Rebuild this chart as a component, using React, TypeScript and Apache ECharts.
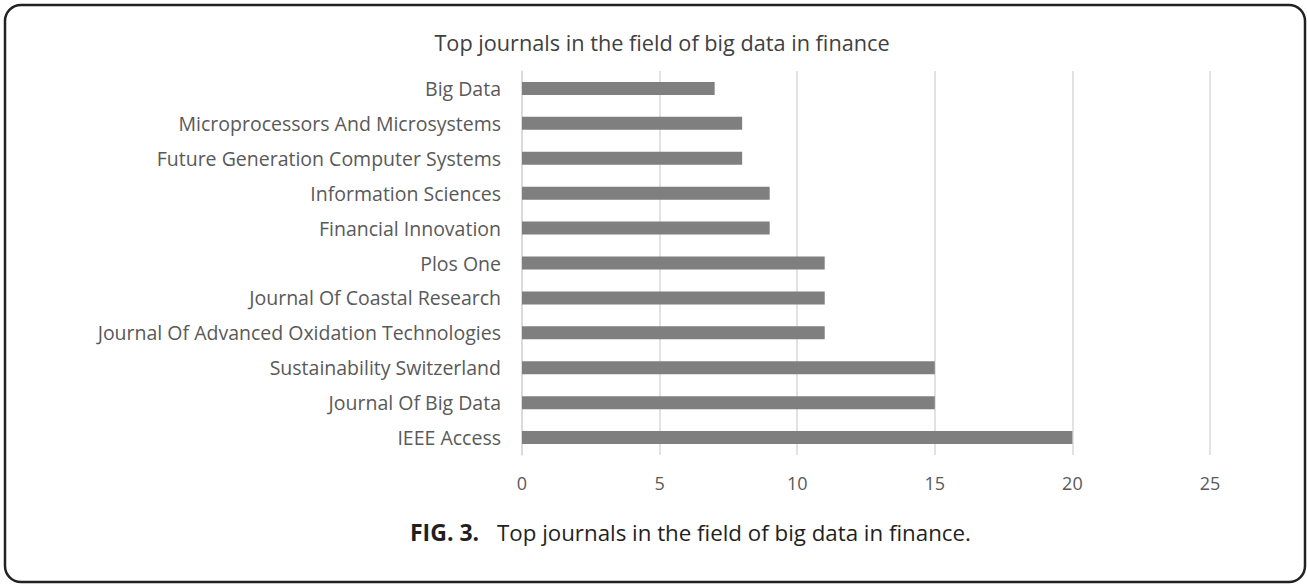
import React, { useEffect, useRef } from "react";
import * as echarts from "echarts";

const categories = [
  "Big Data",
  "Microprocessors And Microsystems",
  "Future Generation Computer Systems",
  "Information Sciences",
  "Financial Innovation",
  "Plos One",
  "Journal Of Coastal Research",
  "Journal Of Advanced Oxidation Technologies",
  "Sustainability Switzerland",
  "Journal Of Big Data",
  "IEEE Access",
];
const values = [7, 8, 8, 9, 9, 11, 11, 11, 15, 15, 20];

const chartTitle = "Top journals in the field of big data in finance";
const figLabel = "FIG. 3.";
const figCaption = "Top journals in the field of big data in finance.";

const FONT = '"Open Sans"';

export default function App() {
  const ref = useRef<HTMLDivElement>(null);
  useEffect(() => {
    document.body.style.margin = "0";
    const chart = echarts.init(ref.current!, null, { renderer: "svg" });
    chart.setOption({
      animation: false,
      backgroundColor: "#ffffff",
      textStyle: { fontFamily: FONT },
      grid: { left: 522, right: 97, top: 71, bottom: 129, containLabel: false },
      xAxis: {
        type: "value",
        min: 0,
        max: 25,
        interval: 5,
        axisLine: { show: false },
        axisTick: { show: false },
        axisLabel: { color: "#595959", fontSize: 18, margin: 19, fontFamily: FONT },
        splitLine: { show: true, lineStyle: { color: "#d9d9d9", width: 1.5 } },
      },
      yAxis: {
        type: "category",
        data: categories,
        inverse: true,
        axisLine: { show: true, lineStyle: { color: "#d9d9d9", width: 1.5 } },
        axisTick: { show: false },
        axisLabel: { color: "#595959", fontSize: 19.5, margin: 21, fontFamily: FONT },
      },
      series: [
        {
          type: "bar",
          data: values,
          barWidth: 13,
          itemStyle: { color: "#7f7f7f" },
        },
      ],
      graphic: [
        {
          type: "rect",
          shape: { x: 5, y: 5, width: 1300, height: 577, r: 16 },
          style: { fill: "none", stroke: "#222222", lineWidth: 2.5 },
          silent: true,
        },
        {
          type: "text",
          x: 662,
          y: 42,
          style: {
            text: chartTitle,
            fill: "#404040",
            font: `21.7px ${FONT}`,
            textAlign: "center",
            textVerticalAlign: "middle",
          },
        },
        {
          type: "text",
          x: 410,
          y: 532,
          style: {
            text: figLabel,
            fill: "#231f20",
            font: `bold 23px ${FONT}`,
            textAlign: "left",
            textVerticalAlign: "middle",
          },
        },
        {
          type: "text",
          x: 497,
          y: 532,
          style: {
            text: figCaption,
            fill: "#231f20",
            font: `22.3px ${FONT}`,
            textAlign: "left",
            textVerticalAlign: "middle",
          },
        },
      ],
    });
    return () => chart.dispose();
  }, []);
  return (
    <div
      ref={ref}
      style={{ position: "fixed", left: 0, top: 0, width: 1307, height: 584 }}
    />
  );
}
